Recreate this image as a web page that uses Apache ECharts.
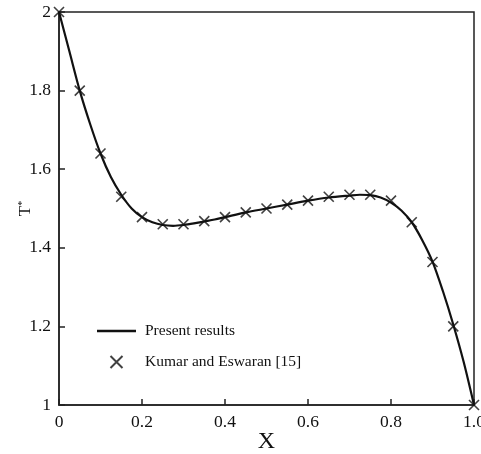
<!DOCTYPE html>
<html>
<head>
<meta charset="utf-8">
<script src="https://cdn.jsdelivr.net/npm/echarts@6/dist/echarts.min.js"></script>
<style>
  html, body { margin: 0; padding: 0; background: #fff; }
  #chart { width: 481px; height: 454px; }
</style>
</head>
<body>
<div id="chart"></div>
<script>
// present results (solid curve)
const curveX = [0, 0.025, 0.05, 0.075, 0.1, 0.125, 0.15, 0.175, 0.2, 0.225, 0.25, 0.275, 0.3, 0.325, 0.35, 0.375, 0.4, 0.45, 0.5, 0.55, 0.6, 0.65, 0.7, 0.725, 0.75, 0.775, 0.8, 0.825, 0.85, 0.875, 0.9, 0.925, 0.95, 0.975, 1.0]
const curveT = [2.0, 1.9, 1.8, 1.715, 1.64, 1.58, 1.535, 1.5, 1.478, 1.465, 1.458, 1.456, 1.458, 1.462, 1.467, 1.472, 1.478, 1.49, 1.5, 1.51, 1.52, 1.528, 1.533, 1.535, 1.534, 1.528, 1.515, 1.495, 1.465, 1.42, 1.365, 1.29, 1.205, 1.11, 1.0]

// Kumar and Eswaran [15] (crosses)
const refX = [0, 0.05, 0.1, 0.15, 0.2, 0.25, 0.3, 0.35, 0.4, 0.45, 0.5, 0.55, 0.6, 0.65, 0.7, 0.75, 0.8, 0.85, 0.9, 0.95, 1.0]
const refT = [2.0, 1.8, 1.64, 1.53, 1.478, 1.46, 1.46, 1.468, 1.478, 1.49, 1.5, 1.51, 1.52, 1.53, 1.535, 1.535, 1.52, 1.465, 1.364, 1.2, 1.0]

const xTicks = ['0', '0.2', '0.4', '0.6', '0.8', '1.0']
const yTicks = ['1', '1.2', '1.4', '1.6', '1.8', '2']

const cross = 'path://M0,0L10,10M10,0L0,10'
const serif = '"Liberation Serif", "DejaVu Serif", serif'

const chart = echarts.init(document.getElementById('chart'))
chart.setOption({
  animation: false,
  backgroundColor: '#fff',
  grid: {
    left: 59,
    right: 7,
    top: 12,
    bottom: 49,
    containLabel: false,
    outerBoundsMode: 'none',
    show: true,
    borderColor: '#222',
    borderWidth: 1.5
  },
  legend: {
    orient: 'vertical',
    left: 92,
    top: 318,
    itemWidth: 39,
    itemHeight: 12,
    itemGap: 15,
    symbolKeepAspect: true,
    textStyle: { fontFamily: serif, fontSize: 15.5, color: '#111', padding: [0, 0, 0, 4] },
    data: [
      { name: 'Present results', icon: 'path://M0,0H40V2.6H0Z' },
      { name: 'Kumar and Eswaran [15]' }
    ]
  },
  xAxis: {
    type: 'value',
    min: 0,
    max: 1,
    interval: 0.2,
    name: 'X',
    nameLocation: 'middle',
    nameGap: 25,
    nameMoveOverlap: false,
    nameTextStyle: { fontFamily: serif, fontSize: 24, color: '#111' },
    axisLine: { lineStyle: { color: '#222', width: 1.5 } },
    axisTick: { inside: true, length: 6, lineStyle: { color: '#222', width: 1.5 } },
    axisLabel: {
      fontFamily: serif, fontSize: 17.5, color: '#111', margin: 8,
      formatter: (v) => xTicks[Math.round(v / 0.2)]
    },
    splitLine: { show: false }
  },
  yAxis: {
    type: 'value',
    min: 1,
    max: 2,
    interval: 0.2,
    name: 'T{s|*}',
    nameLocation: 'middle',
    nameGap: 25,
    nameMoveOverlap: false,
    nameTextStyle: {
      fontFamily: serif, fontSize: 17, color: '#111',
      rich: { s: { fontFamily: serif, fontSize: 10, verticalAlign: 'top', color: '#111' } }
    },
    axisLine: { lineStyle: { color: '#222', width: 1.5 } },
    axisTick: { inside: true, length: 6, lineStyle: { color: '#222', width: 1.5 } },
    axisLabel: {
      fontFamily: serif, fontSize: 17.5, color: '#111', margin: 8,
      formatter: (v) => yTicks[Math.round((v - 1) / 0.2)]
    },
    splitLine: { show: false }
  },
  series: [
    {
      name: 'Present results',
      type: 'line',
      smooth: 0.3,
      symbol: 'none',
      lineStyle: { color: '#111', width: 2.2 },
      itemStyle: { color: '#111' },
      data: curveX.map((x, i) => [x, curveT[i]])
    },
    {
      name: 'Kumar and Eswaran [15]',
      type: 'scatter',
      symbol: cross,
      symbolSize: 10,
      itemStyle: { color: 'rgba(0,0,0,0)', borderColor: '#111', borderWidth: 1.6 },
      data: refX.map((x, i) => [x, refT[i]])
    }
  ]
})
</script>
</body>
</html>
